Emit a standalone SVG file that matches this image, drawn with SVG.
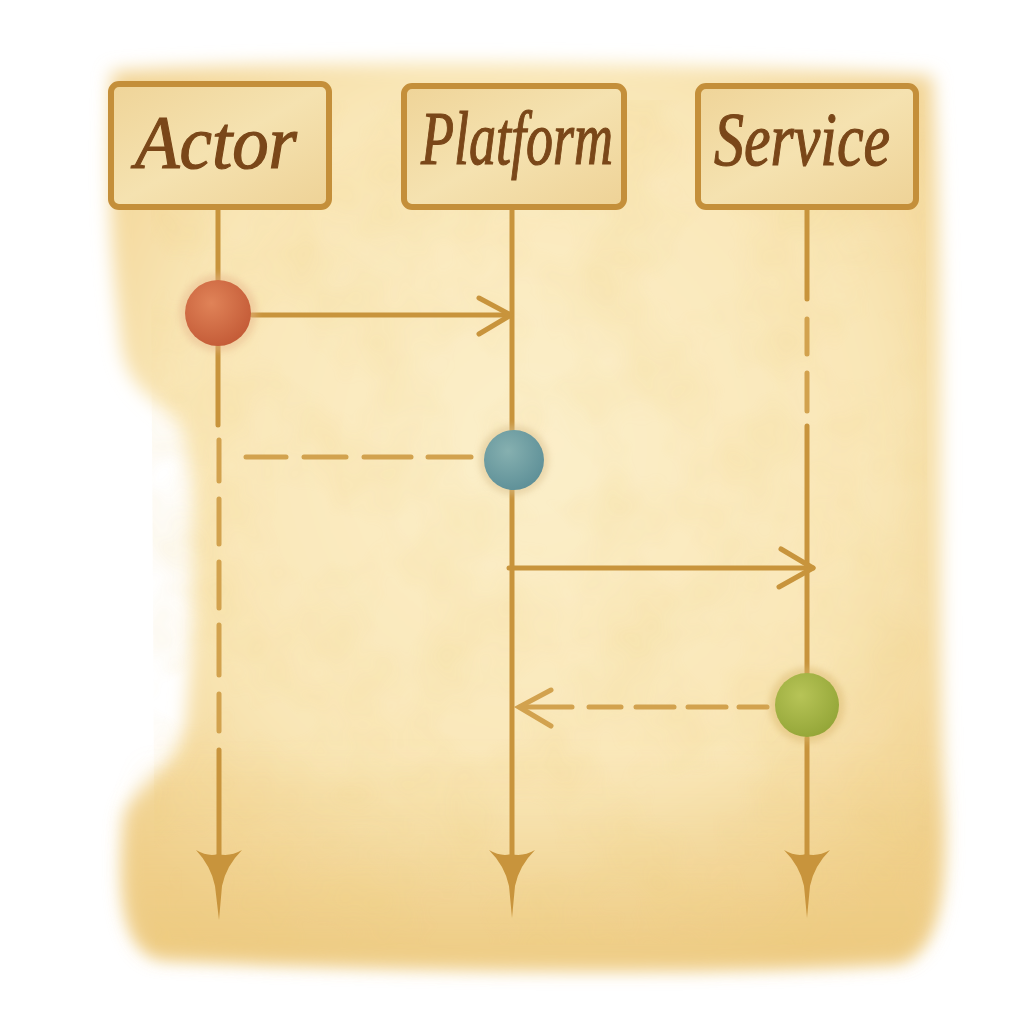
<svg xmlns="http://www.w3.org/2000/svg" width="1024" height="1024" viewBox="0 0 1024 1024">
  <defs>
    <filter id="soft" x="-10%" y="-10%" width="120%" height="120%">
      <feGaussianBlur stdDeviation="9"/>
    </filter>
    <filter id="grain" x="0" y="0" width="100%" height="100%">
      <feTurbulence type="fractalNoise" baseFrequency="0.012" numOctaves="3" seed="4" result="n"/>
      <feColorMatrix in="n" type="matrix" values="0 0 0 0 0.85  0 0 0 0 0.62  0 0 0 0 0.2  0 0 0 0.5 -0.18" result="c"/>
      <feComposite in="c" in2="SourceGraphic" operator="in"/>
    </filter>
    <filter id="halo" x="-50%" y="-50%" width="200%" height="200%">
      <feGaussianBlur stdDeviation="3"/>
    </filter>
    <radialGradient id="paperG" cx="50%" cy="42%" r="65%">
      <stop offset="0" stop-color="#fcefca"/>
      <stop offset="0.65" stop-color="#f9e6b6"/>
      <stop offset="1" stop-color="#f1d18e"/>
    </radialGradient>
    <linearGradient id="bottomG" x1="0" y1="0" x2="0" y2="1">
      <stop offset="0" stop-color="#efcf8a" stop-opacity="0"/>
      <stop offset="1" stop-color="#ebc679" stop-opacity="0.7"/>
    </linearGradient>
    <radialGradient id="redG" cx="40%" cy="35%" r="70%">
      <stop offset="0" stop-color="#e08358"/>
      <stop offset="1" stop-color="#c35a36"/>
    </radialGradient>
    <radialGradient id="blueG" cx="40%" cy="35%" r="70%">
      <stop offset="0" stop-color="#86b0b0"/>
      <stop offset="1" stop-color="#5d8f97"/>
    </radialGradient>
    <radialGradient id="greenG" cx="40%" cy="35%" r="70%">
      <stop offset="0" stop-color="#b7c457"/>
      <stop offset="1" stop-color="#93a537"/>
    </radialGradient>
    <linearGradient id="boxG" x1="0" y1="0" x2="1" y2="1">
      <stop offset="0" stop-color="#efd498"/>
      <stop offset="0.5" stop-color="#f5e2b0"/>
      <stop offset="1" stop-color="#eed296"/>
    </linearGradient>
  </defs>
  <style>
    .box { fill: url(#boxG); stroke: #c48f3a; stroke-width: 6; stroke-linejoin: round; }
    .label { font-family: "Liberation Serif", "DejaVu Serif", serif; font-style: italic; font-size: 76px; fill: #7a4719; stroke: #7a4719; stroke-width: 1.2; text-anchor: middle; }
    .life { stroke: #c8943c; stroke-width: 5; fill: none; stroke-linecap: round; }
    .msg { stroke: #c8943c; stroke-width: 5; fill: none; stroke-linecap: round; stroke-linejoin: round; }
    .dash { stroke: #d2a24e; stroke-width: 5; fill: none; stroke-linecap: round; }
    .head { fill: #c8943c; }
  </style>

  <rect width="1024" height="1024" fill="#ffffff"/>

  <!-- paper -->
  <g id="paper">
    <path filter="url(#soft)" fill="url(#paperG)" d="M 112 72 C 300 58, 700 62, 932 76 C 948 300, 936 600, 944 800 C 948 900, 936 950, 900 962 C 700 974, 400 970, 158 958 C 126 948, 118 900, 124 820 C 128 790, 178 772, 186 720 C 196 600, 196 500, 186 440 C 176 404, 132 402, 122 350 C 114 280, 106 220, 112 72 Z"/>
    <path filter="url(#soft)" fill="url(#bottomG)" d="M 140 760 C 400 740, 700 750, 938 760 C 944 880, 936 950, 900 960 C 700 972, 400 968, 160 956 C 128 946, 120 900, 126 820 C 130 790, 140 770, 140 760 Z"/>
    <path filter="url(#grain)" fill="#000" d="M 150 100 L 925 100 L 930 945 L 155 945 Z" opacity="0.8"/>
  </g>

  <!-- connectors -->
  <g id="connectors">
    <!-- Actor lifeline -->
    <line class="life" x1="218" y1="208" x2="218" y2="280"/>
    <line class="life" x1="218" y1="346" x2="218" y2="425"/>
    <line class="dash" x1="219" y1="440" x2="219" y2="481"/>
    <line class="dash" x1="219" y1="499" x2="219" y2="544"/>
    <line class="dash" x1="219" y1="562" x2="219" y2="608"/>
    <line class="dash" x1="219" y1="625" x2="219" y2="675"/>
    <line class="dash" x1="219" y1="694" x2="219" y2="731"/>
    <line class="life" x1="219" y1="750" x2="219" y2="856"/>
    <path class="head" d="M 196 850 Q 208 857 218 854 Q 230 857 242 850 Q 226 866 222 886 L 219 920 L 215 886 Q 211 866 196 850 Z"/>

    <!-- Platform lifeline -->
    <line class="life" x1="512" y1="208" x2="512" y2="430"/>
    <line class="life" x1="512" y1="490" x2="512" y2="856"/>
    <path class="head" d="M 489 850 Q 501 857 511 854 Q 523 857 535 850 Q 519 866 515 886 L 512 918 L 509 886 Q 505 866 489 850 Z"/>

    <!-- Service lifeline -->
    <line class="life" x1="807" y1="208" x2="807" y2="299"/>
    <line class="dash" x1="807" y1="319" x2="807" y2="354"/>
    <line class="dash" x1="807" y1="373" x2="807" y2="411"/>
    <line class="life" x1="807" y1="426" x2="807" y2="673"/>
    <line class="life" x1="807" y1="738" x2="807" y2="856"/>
    <path class="head" d="M 784 850 Q 796 857 806 854 Q 818 857 830 850 Q 814 866 810 886 L 807 918 L 804 886 Q 800 866 784 850 Z"/>

    <!-- Message 1: Actor -> Platform -->
    <line class="msg" x1="252" y1="315" x2="510" y2="315"/>
    <polyline class="msg" points="479,298 511,315 479,334"/>

    <!-- Message 2: Platform -> Actor (dashed return) -->
    <line class="dash" x1="246" y1="457" x2="286" y2="457"/>
    <line class="dash" x1="304" y1="457" x2="346" y2="457"/>
    <line class="dash" x1="364" y1="457" x2="411" y2="457"/>
    <line class="dash" x1="428" y1="457" x2="471" y2="457"/>

    <!-- Message 3: Platform -> Service -->
    <line class="msg" x1="509" y1="568" x2="813" y2="568"/>
    <polyline class="msg" points="781,549 813,568 779,587"/>

    <!-- Message 4: Service -> Platform (dashed return) -->
    <line class="dash" x1="520" y1="707" x2="572" y2="707"/>
    <polyline class="dash" points="551,690 519,707 551,726"/>
    <line class="dash" x1="589" y1="707" x2="621" y2="707"/>
    <line class="dash" x1="636" y1="707" x2="674" y2="707"/>
    <line class="dash" x1="688" y1="707" x2="726" y2="707"/>
    <line class="dash" x1="739" y1="707" x2="767" y2="707"/>
  </g>

  <!-- nodes -->
  <g id="actor">
    <rect class="box" x="111" y="84" width="218" height="123" rx="8"/>
    <text class="label" x="216" y="168" textLength="162" lengthAdjust="spacingAndGlyphs">Actor</text>
  </g>
  <g id="platform">
    <rect class="box" x="404" y="86" width="220" height="121" rx="8"/>
    <text class="label" x="517" y="164" textLength="192" lengthAdjust="spacingAndGlyphs">Platform</text>
  </g>
  <g id="service">
    <rect class="box" x="698" y="86" width="218" height="121" rx="8"/>
    <text class="label" x="802" y="165" textLength="176" lengthAdjust="spacingAndGlyphs">Service</text>
  </g>

  <g id="activation-actor">
    <circle cx="218" cy="313" r="39" fill="#e6b58a" opacity="0.45" filter="url(#halo)"/>
    <circle cx="218" cy="313" r="33" fill="url(#redG)"/>
  </g>
  <g id="activation-platform">
    <circle cx="514" cy="460" r="35" fill="#d9c08e" opacity="0.5" filter="url(#halo)"/>
    <circle cx="514" cy="460" r="30" fill="url(#blueG)"/>
  </g>
  <g id="activation-service">
    <circle cx="807" cy="705" r="38" fill="#d8b56a" opacity="0.45" filter="url(#halo)"/>
    <circle cx="807" cy="705" r="32" fill="url(#greenG)"/>
  </g>
</svg>
